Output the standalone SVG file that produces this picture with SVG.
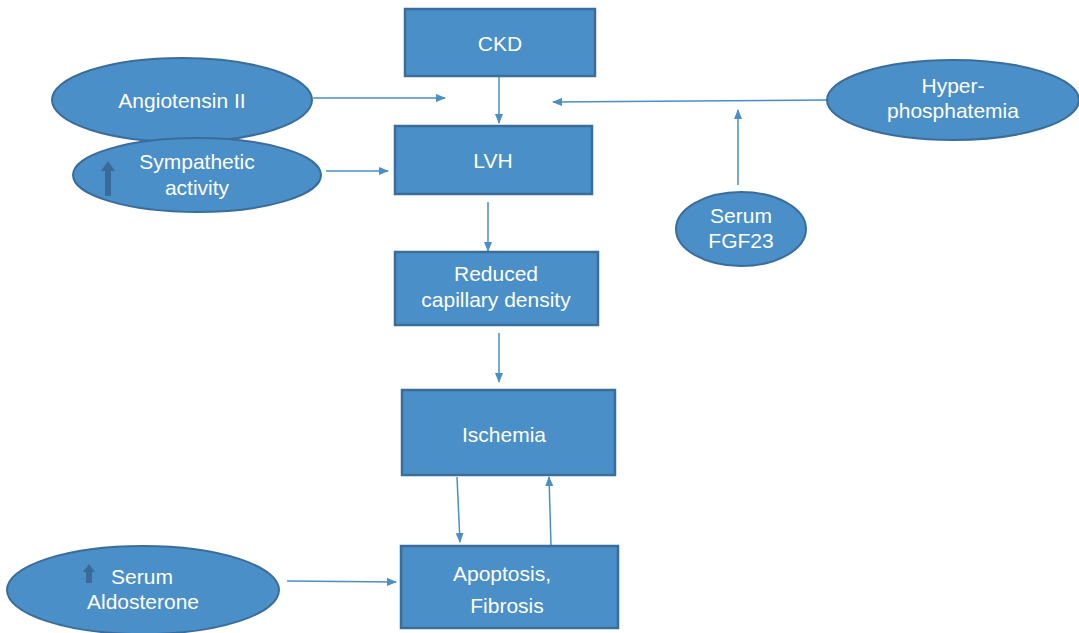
<svg xmlns="http://www.w3.org/2000/svg" width="1079" height="633" viewBox="0 0 1079 633">
<defs>
<marker id="ah" markerWidth="10" markerHeight="8" refX="9" refY="4" orient="auto" markerUnits="userSpaceOnUse">
<path d="M0,0 L10,4 L0,8 Z" fill="#4a8fc8"/>
</marker>
<style>
.box{fill:#4a8fc8;stroke:#3b6d9c;stroke-width:2.5}
.ell{fill:#4a8fc8;stroke:#3b6d9c;stroke-width:2}
.t{font-family:"Liberation Sans",Arial,sans-serif;font-size:21px;fill:#ffffff;text-anchor:middle}
.c{stroke:#4a8fc8;stroke-width:1.5;fill:none;marker-end:url(#ah)}
.up{fill:#3a6a98}
</style>
</defs>
<rect width="1079" height="633" fill="#ffffff"/>
<g id="connectors">
<line class="c" x1="313" y1="98" x2="445" y2="98"/>
<line class="c" x1="499" y1="77" x2="499" y2="123"/>
<line class="c" x1="827" y1="100" x2="553" y2="102"/>
<line class="c" x1="738" y1="185" x2="738" y2="110"/>
<line class="c" x1="326" y1="171" x2="388" y2="171"/>
<line class="c" x1="488" y1="202" x2="488" y2="251"/>
<line class="c" x1="499" y1="333" x2="499" y2="382"/>
<line class="c" x1="457" y1="477" x2="460" y2="542"/>
<line class="c" x1="551" y1="545" x2="549" y2="477"/>
<line class="c" x1="287" y1="581" x2="396" y2="582"/>
</g>
<g id="ckd"><rect class="box" x="405" y="9" width="190" height="67"/><text class="t" x="500" y="51">CKD</text></g>
<g id="lvh"><rect class="box" x="395" y="126" width="197" height="68"/><text class="t" x="493" y="168">LVH</text></g>
<g id="capillary"><rect class="box" x="395" y="252" width="203" height="73"/><text class="t" x="496" y="281">Reduced</text><text class="t" x="496" y="307">capillary density</text></g>
<g id="ischemia"><rect class="box" x="402" y="390" width="213" height="85"/><text class="t" x="504" y="442">Ischemia</text></g>
<g id="apoptosis"><rect class="box" x="401" y="546" width="217" height="82"/><text class="t" x="502" y="581">Apoptosis,</text><text class="t" x="507" y="613">Fibrosis</text></g>
<g id="angiotensin"><ellipse class="ell" cx="182" cy="100" rx="130" ry="42"/><text class="t" x="182" y="108">Angiotensin II</text></g>
<g id="sympathetic"><ellipse class="ell" cx="197" cy="175" rx="124" ry="37"/><path class="up" d="M105,196 L105,171 L101,171 L108,161 L115,171 L111,171 L111,196 Z"/><text class="t" x="197" y="169">Sympathetic</text><text class="t" x="197" y="195">activity</text></g>
<g id="hyper"><ellipse class="ell" cx="953" cy="100" rx="126" ry="40"/><text class="t" x="953" y="93">Hyper-</text><text class="t" x="953" y="118">phosphatemia</text></g>
<g id="fgf23"><ellipse class="ell" cx="741" cy="229" rx="65" ry="37"/><text class="t" x="741" y="223">Serum</text><text class="t" x="741" y="248">FGF23</text></g>
<g id="aldosterone"><ellipse class="ell" cx="143" cy="590" rx="136" ry="44"/><path class="up" d="M86,583 L86,572 L83,572 L89,564 L95,572 L92,572 L92,583 Z"/><text class="t" x="142" y="584">Serum</text><text class="t" x="143" y="609">Aldosterone</text></g>
</svg>
